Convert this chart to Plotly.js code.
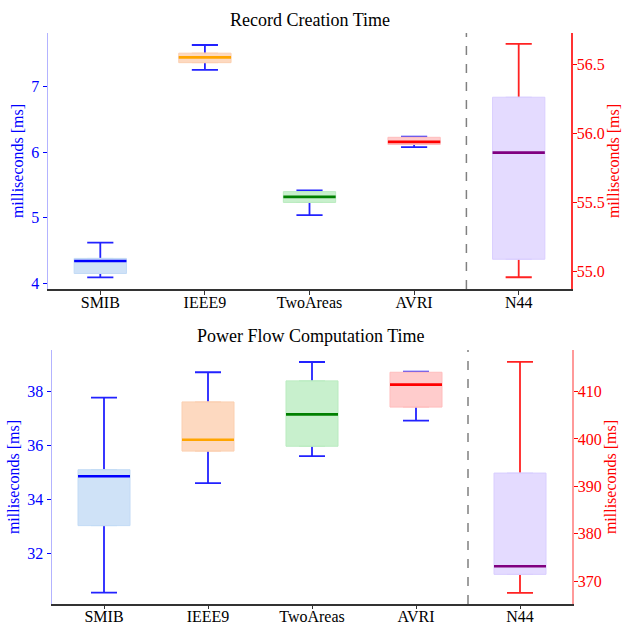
<!DOCTYPE html>
<html>
<head>
<meta charset="utf-8">
<script src="https://cdn.plot.ly/plotly-3.0.1.min.js"></script>
<style>html,body{margin:0;padding:0;background:#fff;}#chart{width:630px;height:624px;}</style>
</head>
<body>
<div id="chart"></div>
<script>
// ---- data ----
var categories = ['SMIB', 'IEEE9', 'TwoAreas', 'AVRI', 'N44'];
// Record Creation Time (N44 on right axis)
var rcLow  = [4.09, 7.26, 5.04, 6.08, 54.96];
var rcQ1   = [4.15, 7.37, 5.235, 6.12, 55.09];
var rcMed  = [4.34, 7.45, 5.32, 6.16, 55.86];
var rcQ3   = [4.38, 7.515, 5.40, 6.23, 56.26];
var rcHigh = [4.62, 7.64, 5.42, 6.24, 56.645];
// Power Flow Computation Time (N44 on right axis)
var pfLow  = [30.56, 34.61, 35.61, 36.93, 367.5];
var pfQ1   = [33.04, 35.80, 35.98, 37.43, 371.4];
var pfMed  = [34.87, 36.22, 37.16, 38.26, 373.1];
var pfQ3   = [35.11, 37.62, 38.40, 38.72, 392.8];
var pfHigh = [37.78, 38.72, 39.10, 38.74, 416.3];

var titles = ['Record Creation Time', 'Power Flow Computation Time'];
var axisTitle = 'milliseconds [ms]';

var medianColors  = ['#0000ff', '#ffa500', '#008000', '#ff0000', '#800080'];
var fillColors    = ['#cfe2f7', '#fdd9c0', '#c8f0cd', '#ffcccc', '#e4dbff'];
var edgeColors    = ['#c2daf5', '#fbcfb0', '#b9ebbf', '#ffbdbd', '#d9ceff'];
var whiskerColors = ['#2222ff', '#2222ff', '#2222ff', '#2222ff', '#ff2222'];

var FONT = 'Liberation Serif, Times New Roman, serif';
var traces = [];

function addBoxes(low, q1, med, q3, high, xa, yaLeft, yaRight) {
  for (var i = 0; i < categories.length; i++) {
    var ya = (categories[i] === 'N44') ? yaRight : yaLeft;
    var common = {type: 'box', x: [categories[i]], xaxis: xa, yaxis: ya,
      width: 0.5, whiskerwidth: 0.5, boxpoints: false, hoverinfo: 'skip', showlegend: false};
    // whiskers + caps
    traces.push(Object.assign({}, common, {
      q1: [med[i]], median: [med[i]], q3: [med[i]], lowerfence: [low[i]], upperfence: [high[i]],
      line: {color: whiskerColors[i], width: 1.8}, fillcolor: 'rgba(0,0,0,0)'
    }));
    // filled box
    traces.push(Object.assign({}, common, {
      q1: [q1[i]], median: [med[i]], q3: [q3[i]], lowerfence: [q1[i]], upperfence: [q3[i]],
      line: {color: edgeColors[i], width: 1}, fillcolor: fillColors[i]
    }));
    // median line
    traces.push(Object.assign({}, common, {
      q1: [med[i]], median: [med[i]], q3: [med[i]], lowerfence: [med[i]], upperfence: [med[i]],
      line: {color: medianColors[i], width: 2.6}, fillcolor: 'rgba(0,0,0,0)', whiskerwidth: 0
    }));
  }
}
addBoxes(rcLow, rcQ1, rcMed, rcQ3, rcHigh, 'x', 'y', 'y2');
addBoxes(pfLow, pfQ1, pfMed, pfQ3, pfHigh, 'x2', 'y3', 'y4');

function xAxis(domain, anchor, standoff, tlen) {
  return {domain: domain, anchor: anchor, type: 'category', categoryarray: categories,
    categoryorder: 'array', range: [-0.5, 4.5], showline: true, linecolor: '#333', linewidth: 1.5,
    ticks: 'outside', ticklen: tlen, tickcolor: '#333', tickwidth: 1, showgrid: false, zeroline: false,
    ticklabelstandoff: standoff,
    tickfont: {family: FONT, size: 16, color: '#000'}};
}
function yLeft(domain, anchor, range, dtick, lineColor) {
  return {domain: domain, anchor: anchor, range: range, dtick: dtick, showline: true,
    linecolor: lineColor, linewidth: 1.5, ticks: 'outside', ticklen: 4, tickcolor: '#0000ff',
    showgrid: false, zeroline: false, tickfont: {family: FONT, size: 16, color: '#0000ff'},
    title: {text: axisTitle, font: {family: FONT, size: 16, color: '#0000ff'}, standoff: 3}};
}
function yRight(overlay, anchor, range, dtick, lineColor, fmt) {
  return {overlaying: overlay, anchor: anchor, side: 'right', range: range, dtick: dtick,
    tickformat: fmt, showline: true, linecolor: lineColor, linewidth: 1.5, ticks: 'outside', ticklen: 4,
    tickcolor: '#ff0000', showgrid: false, zeroline: false, ticklabelstandoff: -3,
    tickfont: {family: FONT, size: 16, color: '#ff0000'},
    title: {text: axisTitle, font: {family: FONT, size: 16, color: '#ff0000'}, standoff: 4}};
}

var topDom = [1 - 289 / 624, 1 - 33 / 624];
var botDom = [1 - 604 / 624, 1 - 350 / 624];

var layout = {
  width: 630, height: 624, margin: {l: 0, r: 0, t: 0, b: 0},
  paper_bgcolor: '#fff', plot_bgcolor: '#fff', boxmode: 'overlay', showlegend: false,
  font: {family: FONT},
  xaxis: xAxis([48 / 630, 571 / 630], 'y', -6, 4),
  xaxis2: xAxis([52 / 630, 572 / 630], 'y3', -6, 3),
  yaxis: yLeft(topDom, 'x', [3.913, 7.823], 1, '#b3b3ff'),
  yaxis2: yRight('y', 'x', [54.875, 56.724], 0.5, '#ff3333', '.1f'),
  yaxis3: yLeft(botDom, 'x2', [30.137, 39.544], 2, '#b3b3ff'),
  yaxis4: yRight('y3', 'x2', [365.14, 418.8], 10, '#ff9a9a', 'd'),
  shapes: [
    {type: 'line', xref: 'x', yref: 'y domain', x0: 3.5, x1: 3.5, y0: 0, y1: 1,
     line: {color: '#808080', width: 1.5, dash: 'dash'}},
    {type: 'line', xref: 'x2', yref: 'y3 domain', x0: 3.5, x1: 3.5, y0: 0, y1: 1,
     line: {color: '#808080', width: 1.5, dash: 'dash'}}
  ],
  annotations: [
    {text: titles[0], xref: 'paper', yref: 'paper', x: 309.5 / 630, y: 1 - 20 / 624,
     xanchor: 'center', yanchor: 'middle', showarrow: false, font: {family: FONT, size: 18, color: '#000'}},
    {text: titles[1], xref: 'paper', yref: 'paper', x: 311 / 630, y: 1 - 336 / 624,
     xanchor: 'center', yanchor: 'middle', showarrow: false, font: {family: FONT, size: 18, color: '#000'}}
  ]
};

Plotly.newPlot('chart', traces, layout, {staticPlot: true, displayModeBar: false});
</script>
</body>
</html>
